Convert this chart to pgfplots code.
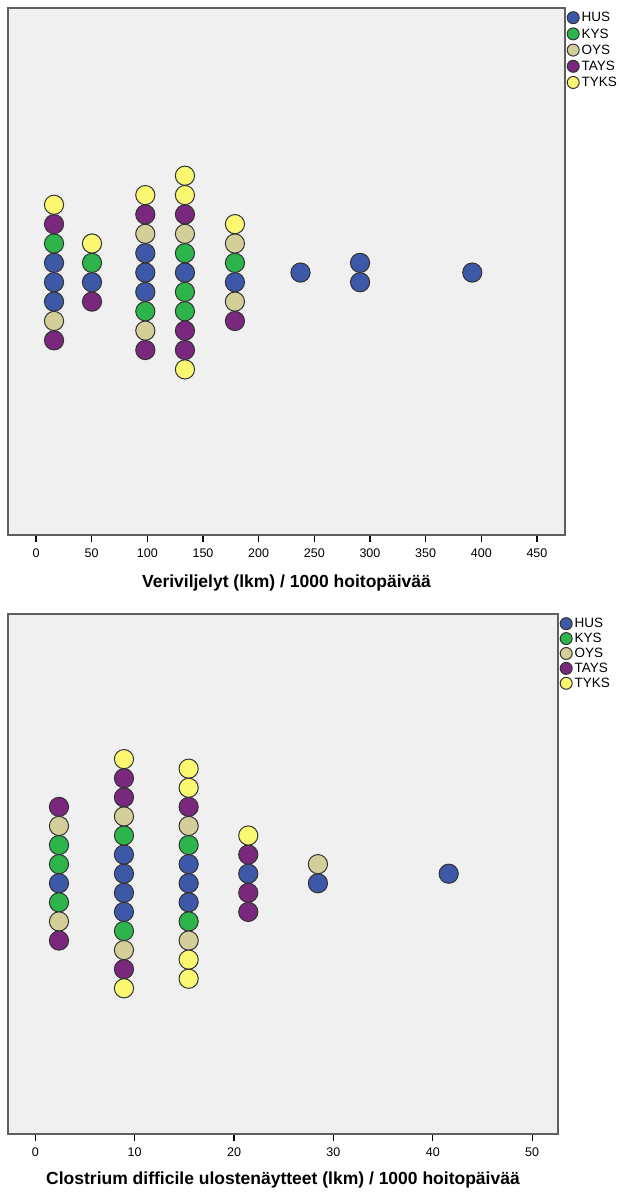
\documentclass[border=0pt]{standalone}
\usepackage{fontspec}
\setmainfont{Liberation Sans}
\usepackage{pgfplots}
\pgfplotsset{compat=1.18}
\definecolor{cHUS}{HTML}{3E58A8}
\definecolor{cKYS}{HTML}{2DB54B}
\definecolor{cOYS}{HTML}{D4CE99}
\definecolor{cTAYS}{HTML}{7A287D}
\definecolor{cTYKS}{HTML}{FAF871}
\definecolor{bgc}{HTML}{F0F0F0}
\definecolor{framec}{HTML}{5F5F5F}
\pgfplotsset{
  dotstyle/.style={only marks, mark=*, mark size=9.6pt, mark options={draw=black!80, line width=1pt, fill=#1}},
  dotaxis/.style={
    scale only axis,
    axis background/.style={fill=bgc},
    axis line style={draw=framec, line width=1.2pt},
    ytick=\empty,
    xtick pos=bottom,
    tick align=outside,
    major tick length=7pt,
    xtick style={draw=black, line width=1.3pt},
    /pgf/number format/assume math mode=true,
    ticklabel style={font=\fontsize{12.5}{14}\selectfont},
    xticklabel style={yshift=-3pt},
    xlabel style={font=\fontsize{17.5}{20}\selectfont\bfseries, yshift=-11pt},
    legend style={at={(1,1)}, anchor=north west, xshift=2pt, yshift=-3.5pt, draw=none, fill=none, inner sep=0pt, row sep=4.2pt,
      font=\fontsize{13.5}{15}\selectfont,
      nodes={inner sep=0.5pt, text height=9.5pt, text depth=1pt},
      /tikz/every odd column/.append style={column sep=2pt}},
    legend image code/.code={\draw[##1, mark size=6pt, line width=0.9pt] plot coordinates {(6pt,0pt)};},
    legend cell align=left,
  },
}
\begin{document}
\begin{tikzpicture}
\useasboundingbox (0,0) rectangle (620pt,1192pt);
% Panel 1
\begin{axis}[dotaxis,
  at={(8pt,657pt)}, anchor=south west,
  width=557pt, height=527pt,
  xmin=-25.15, xmax=475.2, ymin=-13.55, ymax=13.66,
  xtick={0,50,...,450},
  xlabel={Veriviljelyt (lkm) / 1000 hoitopäivää},
]
\addplot[dotstyle=cHUS] coordinates {(16.2,0.5) (16.2,-0.5) (16.2,-1.5) (50.3,-0.5) (98.2,1) (98.2,0) (98.2,-1) (133.8,0) (178.7,-0.5) (237.6,0) (291.1,0.5) (291.1,-0.5) (391.9,0)};
\addlegendentry{HUS}
\addplot[dotstyle=cKYS] coordinates {(16.2,1.5) (50.3,0.5) (98.2,-2) (133.8,1) (133.8,-1) (133.8,-2) (178.7,0.5)};
\addlegendentry{KYS}
\addplot[dotstyle=cOYS] coordinates {(16.2,-2.5) (98.2,2) (98.2,-3) (133.8,2) (178.7,1.5) (178.7,-1.5)};
\addlegendentry{OYS}
\addplot[dotstyle=cTAYS] coordinates {(16.2,2.5) (16.2,-3.5) (50.3,-1.5) (98.2,3) (98.2,-4) (133.8,3) (133.8,-3) (133.8,-4) (178.7,-2.5)};
\addlegendentry{TAYS}
\addplot[dotstyle=cTYKS] coordinates {(16.2,3.5) (50.3,1.5) (98.2,4) (133.8,5) (133.8,4) (133.8,-5) (178.7,2.5)};
\addlegendentry{TYKS}
\end{axis}
% Panel 2
\begin{axis}[dotaxis,
  at={(8pt,58pt)}, anchor=south west,
  width=550pt, height=520pt,
  xmin=-2.75, xmax=52.6, ymin=-13.63, ymax=13.6,
  xtick={0,10,...,50},
  xlabel={Clostrium difficile ulostenäytteet (lkm) / 1000 hoitopäivää},
  xlabel style={yshift=2pt},
  legend style={row sep=2.9pt, yshift=0pt},
]
\addplot[dotstyle=cHUS] coordinates {(2.38,-0.5) (8.92,1) (8.92,0) (8.92,-1) (8.92,-2) (15.43,0.5) (15.43,-0.5) (15.43,-1.5) (21.43,0) (28.44,-0.5) (41.6,0)};
\addlegendentry{HUS}
\addplot[dotstyle=cKYS] coordinates {(2.38,1.5) (2.38,0.5) (2.38,-1.5) (8.92,2) (8.92,-3) (15.43,1.5) (15.43,-2.5)};
\addlegendentry{KYS}
\addplot[dotstyle=cOYS] coordinates {(2.38,2.5) (2.38,-2.5) (8.92,3) (8.92,-4) (15.43,2.5) (15.43,-3.5) (28.44,0.5)};
\addlegendentry{OYS}
\addplot[dotstyle=cTAYS] coordinates {(2.38,3.5) (2.38,-3.5) (8.92,5) (8.92,4) (8.92,-5) (15.43,3.5) (21.43,1) (21.43,-1) (21.43,-2)};
\addlegendentry{TAYS}
\addplot[dotstyle=cTYKS] coordinates {(8.92,6) (8.92,-6) (15.43,5.5) (15.43,4.5) (15.43,-4.5) (15.43,-5.5) (21.43,2)};
\addlegendentry{TYKS}
\end{axis}
\end{tikzpicture}
\end{document}
